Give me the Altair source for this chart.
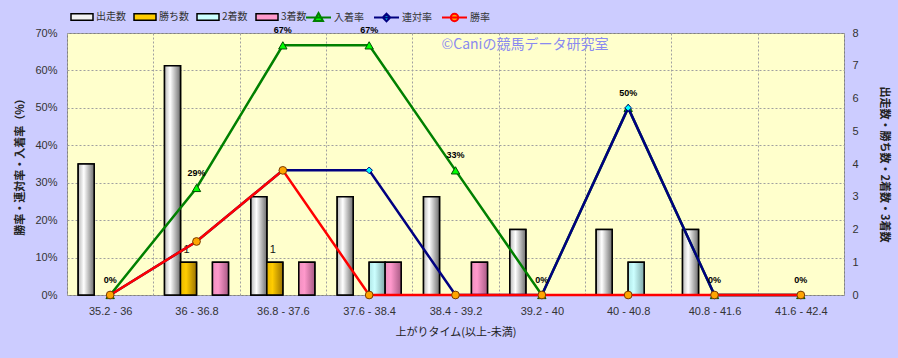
import altair as alt
import pandas as pd

categories = ["35.2 - 36", "36 - 36.8", "36.8 - 37.6", "37.6 - 38.4", "38.4 - 39.2",
              "39.2 - 40", "40 - 40.8", "40.8 - 41.6", "41.6 - 42.4"]
bar_series = ["出走数", "勝ち数", "2着数", "3着数"]
runners = [4, 7, 3, 3, 3, 2, 2, 2, 0]
wins = [0, 1, 1, 0, 0, 0, 0, 0, 0]
seconds = [0, 0, 0, 1, 0, 0, 1, 0, 0]
thirds = [0, 1, 1, 1, 1, 0, 0, 0, 0]

rate_series = ["入着率", "連対率", "勝率"]
place_rate = [0.0, 0.286, 0.667, 0.667, 0.333, 0.0, 0.5, 0.0, 0.0]
quinella_rate = [0.0, 0.143, 0.333, 0.333, 0.0, 0.0, 0.5, 0.0, 0.0]
win_rate = [0.0, 0.143, 0.333, 0.0, 0.0, 0.0, 0.0, 0.0, 0.0]

watermark = "©Caniの競馬データ研究室"

bar_rows = []
for s, vals in zip(bar_series, [runners, wins, seconds, thirds]):
    for c, v in zip(categories, vals):
        bar_rows.append({"cat": c, "series": s, "count": v})
bars_df = pd.DataFrame(bar_rows)

rate_rows = []
for s, vals in zip(rate_series, [place_rate, quinella_rate, win_rate]):
    for c, v in zip(categories, vals):
        rate_rows.append({"cat": c, "rs": s, "rate": v})
rates_df = pd.DataFrame(rate_rows)

JP = "Noto Sans CJK JP"

X = alt.X("cat:N", sort=categories,
          scale=alt.Scale(domain=categories, paddingInner=0, paddingOuter=0),
          axis=alt.Axis(title="上がりタイム(以上-未満)", grid=True, tickBand="extent",
                        gridColor="#A0A0A0", gridDash=[2, 2], ticks=False, domain=False,
                        labelAngle=0, labelPadding=10, titlePadding=10,
                        titleFontWeight="normal"))
XO = alt.XOffset("series:N", sort=bar_series,
                 scale=alt.Scale(domain=bar_series, paddingInner=0, paddingOuter=0.7))
YC = alt.Y("count:Q", stack=None, scale=alt.Scale(domain=[0, 8], nice=False),
           axis=alt.Axis(orient="right", values=list(range(9)), grid=False, ticks=False,
                         domain=False, title="出走数・勝ち数・2着数・3着数",
                         labelPadding=8, titlePadding=20, titleFontWeight="bold"))
YR = alt.Y("rate:Q", scale=alt.Scale(domain=[0, 0.7], nice=False),
           axis=alt.Axis(orient="left", values=[0, 0.1, 0.2, 0.3, 0.4, 0.5, 0.6, 0.7],
                         format=".0%", grid=True, gridColor="#A0A0A0", gridDash=[2, 2],
                         ticks=False, domain=False, title="勝率・連対率・入着率（%）",
                         labelPadding=10, titlePadding=9, titleFontWeight="bold"))

flat_colors = ["#F2F2F2", "#FFCC00", "#CCFFFF", "#FF99CC"]
gradients = [
    ["#B8B8B8", "#FFFFFF", "#6E6E6E"],
    ["#E8B800", "#FFCC00", "#9C7400"],
    ["#B0E6E6", "#CCFFFF", "#7FA8A8"],
    ["#F090C0", "#FF99CC", "#A85A84"],
]

bar_base = alt.Chart(bars_df).transform_filter("datum.count > 0")

bar_legend = bar_base.mark_bar(stroke="black", strokeWidth=1.5, opacity=1).encode(
    x=X, xOffset=XO, y=YC,
    color=alt.Color("series:N", sort=bar_series,
                    scale=alt.Scale(domain=bar_series, range=flat_colors),
                    legend=alt.Legend(orient="none", legendX=3, legendY=-28,
                                      direction="horizontal", title=None,
                                      gridAlign="none",
                                      symbolType="M-1,-0.3H1V0.3H-1Z", symbolSize=484,
                                      symbolStrokeColor="black", symbolStrokeWidth=1.5,
                                      columnPadding=5, labelOffset=2, padding=0,
                                      labelFont=JP, labelFontSize=10,
                                      labelColor="#333333")))

grad_layers = []
for s, g in zip(bar_series, gradients):
    fill = {"gradient": "linear", "x1": 0, "x2": 1, "y1": 0, "y2": 0,
            "stops": [{"offset": 0, "color": g[0]}, {"offset": 0.35, "color": g[1]},
                      {"offset": 1, "color": g[2]}]}
    grad_layers.append(
        bar_base.transform_filter(alt.datum.series == s)
        .mark_bar(fill=fill, stroke="black", strokeWidth=1.5, opacity=1)
        .encode(x=X, xOffset=XO, y=YC))

win_labels = bar_base.transform_filter(alt.datum.series == "勝ち数").mark_text(
    dy=-12, dx=-2, fontSize=11, font="Liberation Sans", fill="#111111").encode(
    x=X, xOffset=XO, y=YC, text="count:Q")

bars = alt.layer(bar_legend, *grad_layers, win_labels)

line_colors = ["#008000", "#000080", "#FF0000"]
marker_fill = ["#00FF00", "#00FFFF", "#FFA500"]
marker_stroke = ["#005000", "#000080", "#7A3A00"]
marker_shape = ["triangle-up", "diamond", "circle"]
marker_size = [70, 45, 60]
legend_paths = [
    "M-1,0H1M0,-0.36L0.36,0.28H-0.36Z",
    "M-1,0H1M0,-0.3L0.3,0L0,0.3L-0.3,0Z",
    "M-1,0H1M-0.3,0A0.3,0.3 0 1,0 0.3,0A0.3,0.3 0 1,0 -0.3,0Z",
]

rate_base = alt.Chart(rates_df)
rate_layers = []
for s, lc, mf, ms, sh, sz in zip(rate_series, line_colors, marker_fill, marker_stroke,
                                marker_shape, marker_size):
    sub = rate_base.transform_filter(alt.datum.rs == s)
    rate_layers.append(sub.mark_line(color=lc, strokeWidth=2.5).encode(x=X, y=YR))
    rate_layers.append(sub.mark_point(shape=sh, filled=True, fill=mf, stroke=ms,
                                      strokeWidth=1, size=sz, opacity=1)
                       .encode(x=X, y=YR))

LL = alt.Legend(orient="none", legendX=238, legendY=-29, direction="horizontal",
                title=None, gridAlign="none", symbolSize=625, symbolStrokeWidth=2,
                columnPadding=6, labelOffset=2, padding=0, labelFont=JP,
                labelFontSize=10, labelColor="#333333")
line_legend = rate_base.transform_filter("datum.rate < 0").mark_point(
    filled=True, opacity=1).encode(
    x=X, y=YR,
    stroke=alt.Stroke("rs:N", sort=rate_series,
                      scale=alt.Scale(domain=rate_series, range=line_colors), legend=LL),
    fill=alt.Fill("rs:N", sort=rate_series,
                  scale=alt.Scale(domain=rate_series, range=marker_fill), legend=LL),
    shape=alt.Shape("rs:N", sort=rate_series,
                    scale=alt.Scale(domain=rate_series, range=legend_paths), legend=LL))

rate_labels = rate_base.transform_filter(alt.datum.rs == "入着率").mark_text(
    dy=-15, fontSize=9, fontWeight="bold", font="Liberation Sans", color="black").encode(
    x=X, y=YR, text=alt.Text("rate:Q", format=".0%"))

rates = alt.layer(*rate_layers, line_legend, rate_labels)

wm = alt.Chart(pd.DataFrame({"t": [watermark]})).mark_text(
    font=JP, fontSize=14, color="#8A8AF0", align="center", baseline="middle").encode(
    x=alt.value(458), y=alt.value(12), text="t:N")

chart = alt.layer(bars, rates, wm).resolve_scale(y="independent").properties(
    width=777, height=262,
    autosize=alt.AutoSizeParams(type="none"),
    padding={"left": 67, "top": 33, "right": 54, "bottom": 63},
    background="#CCCCFF",
).configure_view(fill="#FFFFCC", stroke="#808080", strokeWidth=1).configure_axis(
    labelFont="Liberation Sans", labelFontSize=11, labelColor="#333333",
    titleFont=JP, titleFontSize=11, titleColor="#222222")

chart.save("out.html", embed_options={"renderer": "svg", "actions": False})
